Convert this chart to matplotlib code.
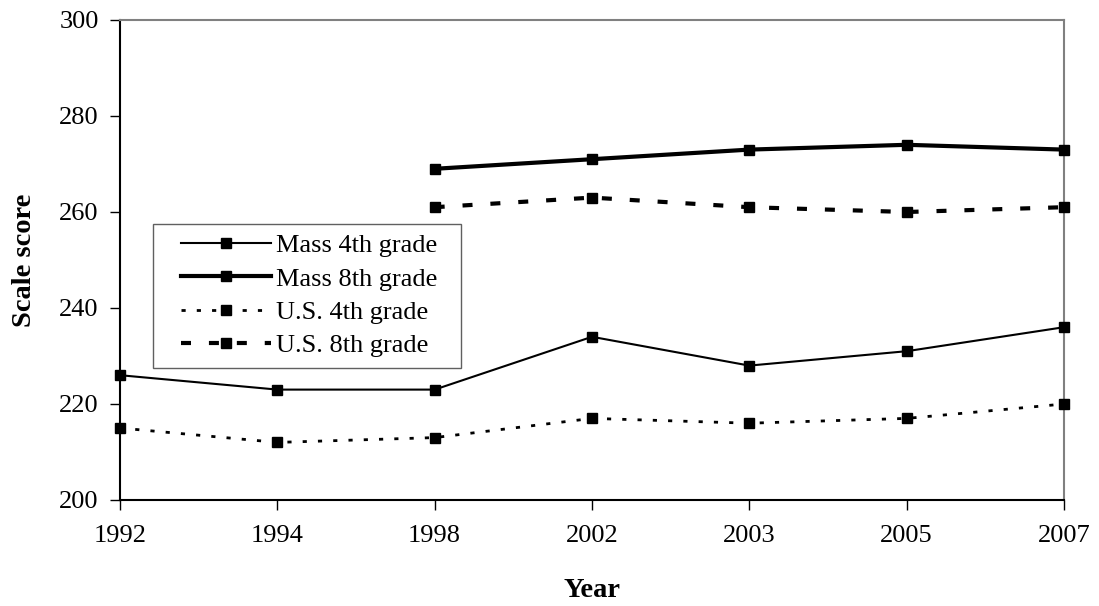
import matplotlib
matplotlib.use("Agg")
import matplotlib.pyplot as plt
from matplotlib.patches import Rectangle
import numpy as np

years = ["1992", "1994", "1998", "2002", "2003", "2005", "2007"]
mass4 = [226, 223, 223, 234, 228, 231, 236]
mass8 = [np.nan, np.nan, 269, 271, 273, 274, 273]
us4 = [215, 212, 213, 217, 216, 217, 220]
us8 = [np.nan, np.nan, 261, 263, 261, 260, 261]

plt.rcParams['font.family'] = ['Liberation Serif', 'DejaVu Serif']

W, H = 1099, 606
L, R, T, B = 120, 1064, 20, 500
fig = plt.figure(figsize=(W/100, H/100), dpi=100)
ax = fig.add_axes([L/W, 1-B/H, (R-L)/W, (B-T)/H])
x = np.arange(len(years))

def px2ax(px, py):
    return (px-L)/(R-L), (B-py)/(B-T)

ms = 7.5
ax.plot(x, mass4, color='black', lw=1.5, marker='s', ms=ms, label='Mass 4th grade', clip_on=False, zorder=3)
ax.plot(x, mass8, color='black', lw=3, marker='s', ms=ms, label='Mass 8th grade', clip_on=False, zorder=3)
ax.plot(x, us4, color='black', lw=2, ls=(0, (1.5, 4)), marker='s', ms=ms, label='U.S. 4th grade', clip_on=False, zorder=3)
ax.plot(x, us8, color='black', lw=3, ls=(0, (2.4, 4.3)), marker='s', ms=ms, label='U.S. 8th grade', clip_on=False, zorder=3)

ax.set_xlim(0, len(years)-1)
ax.set_ylim(200, 300)
ax.set_yticks(range(200, 301, 20))
ax.set_xticks(x)
ax.set_xticklabels(years)
ax.tick_params(axis='both', direction='out', length=7, width=1, labelsize=19, colors='black')
ax.tick_params(axis='x', pad=11)
ax.tick_params(axis='y', pad=8.4)
ax.spines['left'].set_color('black')
ax.spines['bottom'].set_color('black')
ax.spines['top'].set_color('#808080')
ax.spines['right'].set_color('#808080')
for s in ax.spines.values():
    s.set_linewidth(1.5)

ax.set_ylabel('Scale score', fontsize=20.5, fontweight='bold', labelpad=16)
ax.set_xlabel('Year', fontsize=20.5, fontweight='bold', labelpad=22)

# legend frame
x0, y0 = px2ax(153, 368)
x1, y1 = px2ax(461, 224)
ax.add_patch(Rectangle((x0, y0), x1-x0, y1-y0, transform=ax.transAxes,
                       facecolor='white', edgecolor='#606060', lw=1, zorder=4))
ax_, ay_ = px2ax(181, 234)
leg = ax.legend(loc='upper left', bbox_to_anchor=(ax_, ay_),
                fontsize=19, frameon=False, handlelength=3.4,
                handletextpad=0.2, borderpad=0, labelspacing=0.37, borderaxespad=0)
leg.set_zorder(5)

fig.savefig('out.png', dpi=100)
